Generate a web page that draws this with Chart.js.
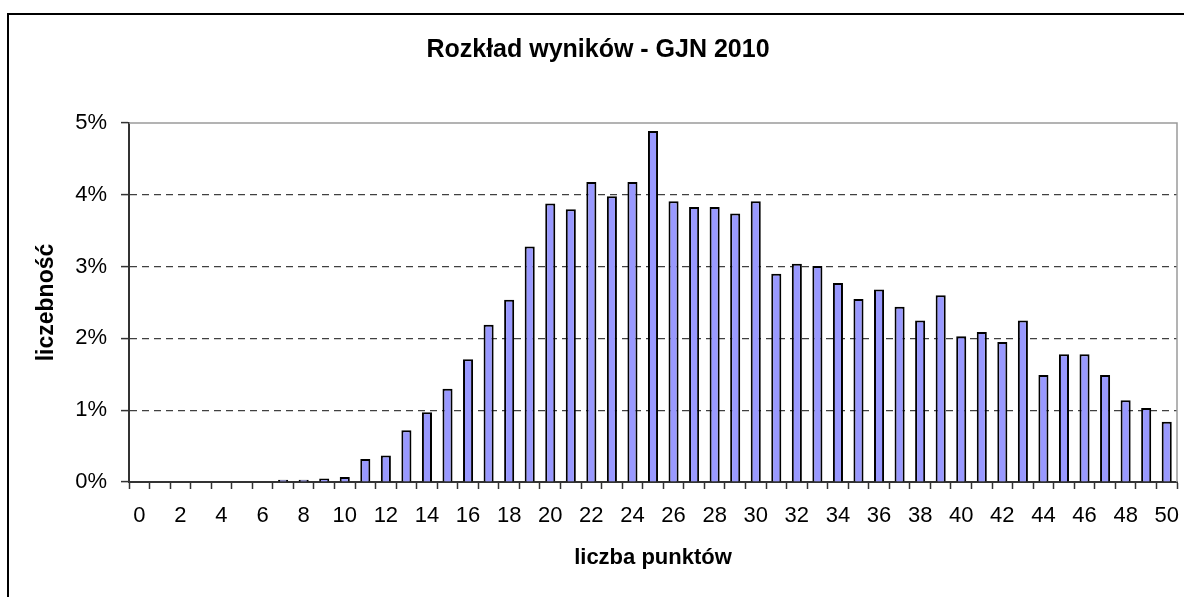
<!DOCTYPE html>
<html>
<head>
<meta charset="utf-8">
<script src="https://cdn.jsdelivr.net/npm/chart.js@4/dist/chart.umd.min.js"></script>
<style>
  html, body { margin: 0; padding: 0; background: #fff; overflow: hidden; }
  #wrap { position: relative; width: 1184px; height: 597px; }
  #frame { position: absolute; left: 7px; top: 13px; width: 1300px; height: 700px;
           border-left: 2px solid #000; border-top: 2px solid #000; pointer-events: none; }
</style>
</head>
<body>
<div id="wrap">
  <canvas id="chart" width="1184" height="597"></canvas>
  <div id="frame"></div>
</div>
<script>
// punkty (kategorie osi X)
const points = ['0','1','2','3','4','5','6','7','8','9','10','11','12','13','14','15','16','17','18','19','20',
                '21','22','23','24','25','26','27','28','29','30','31','32','33','34','35','36','37','38','39','40',
                '41','42','43','44','45','46','47','48','49','50'];
// odsetek uczniów (%)
const shares = [0, 0, 0, 0, 0, 0, 0, 0.03, 0.03, 0.05, 0.07, 0.32, 0.37, 0.72, 0.97, 1.30, 1.71,
                2.19, 2.54, 3.28, 3.88, 3.80, 4.18, 3.98, 4.18, 4.89, 3.91, 3.83, 3.83, 3.74, 3.91,
                2.90, 3.04, 3.01, 2.77, 2.55, 2.68, 2.44, 2.25, 2.60, 2.03, 2.09, 1.95, 2.25,
                1.49, 1.78, 1.78, 1.49, 1.14, 1.03, 0.84];
const yTicks = [0, 1, 2, 3, 4, 5];

Chart.defaults.font.family = "Arial, 'Liberation Sans', sans-serif";
Chart.defaults.color = '#000';

// szara ramka obszaru wykresu (góra i prawa strona)
const plotFrame = {
    id: 'plotFrame',
    beforeDatasetsDraw(chart) {
        const a = chart.chartArea, ctx = chart.ctx;
        ctx.save();
        ctx.strokeStyle = '#9a9a9a';
        ctx.lineWidth = 1.5;
        ctx.beginPath();
        ctx.moveTo(a.left, a.top);
        ctx.lineTo(a.right, a.top);
        ctx.lineTo(a.right, a.bottom);
        ctx.stroke();
        ctx.restore();
    }
};

new Chart(document.getElementById('chart'), {
    type: 'bar',
    data: {
        labels: points,
        datasets: [{
            data: shares,
            backgroundColor: '#9999ff',
            borderColor: '#000',
            borderWidth: 2,
            barPercentage: 0.49,
            categoryPercentage: 1
        }]
    },
    options: {
        responsive: false,
        animation: false,
        layout: { padding: { left: 19, right: 7, top: 0, bottom: 0 } },
        plugins: {
            legend: { display: false },
            tooltip: { enabled: false },
            title: {
                display: true,
                text: 'Rozkład wyników - GJN 2010',
                font: { size: 25, weight: 'bold' },
                color: '#000',
                padding: { top: 35, bottom: 58 }
            }
        },
        scales: {
            x: {
                offset: true,
                grid: { display: true, offset: true, drawOnChartArea: false, drawTicks: true,
                        tickLength: 7, tickColor: '#333', tickWidth: 1.5 },
                border: { color: '#333', width: 2 },
                ticks: {
                    autoSkip: false, maxRotation: 0, padding: 14,
                    font: { size: 22 },
                    callback: function(value, index) {
                        return index % 2 === 0 ? points[index] : '';
                    }
                },
                title: {
                    display: true, text: 'liczba punktów',
                    font: { size: 22, weight: 'bold' },
                    padding: { top: 0, bottom: 26 }
                },
                afterFit: function(scale) {
                    scale.height = 115;
                    scale.paddingLeft = 0;
                    scale.paddingRight = 0;
                }
            },
            y: {
                min: 0, max: 5,
                afterBuildTicks: function(scale) {
                    scale.ticks = yTicks.map(v => ({ value: v }));
                },
                grid: {
                    color: function(ctx) {
                        const v = ctx.tick ? ctx.tick.value : 0;
                        return (v === 0 || v === 5) ? 'rgba(0,0,0,0)' : '#404040';
                    },
                    lineWidth: 1.2,
                    tickLength: 8, tickColor: '#333', tickWidth: 1.5
                },
                border: { color: '#333', width: 2, dash: [7, 5] },
                ticks: {
                    padding: 14,
                    font: { size: 22 },
                    callback: function(value) { return value + '%'; }
                },
                title: {
                    display: true, text: 'liczebność',
                    font: { size: 23, weight: 'bold' },
                    padding: { top: 14, bottom: 0 }
                },
                afterFit: function(scale) {
                    scale.width = 110;
                    scale.paddingTop = 0;
                    scale.paddingBottom = 0;
                }
            }
        }
    },
    plugins: [plotFrame]
});
</script>
</body>
</html>
